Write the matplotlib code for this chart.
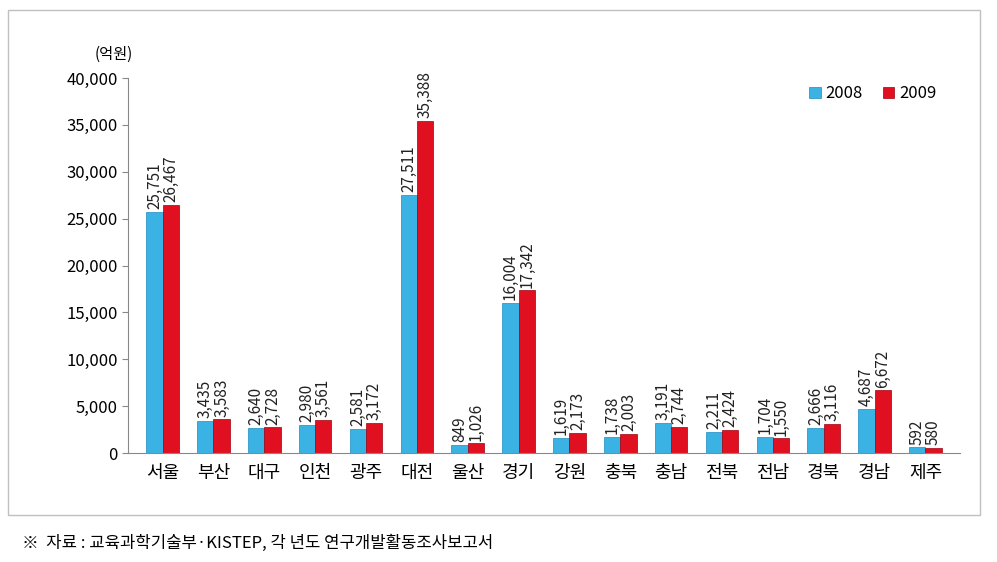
import matplotlib
matplotlib.use("Agg")
import matplotlib.pyplot as plt
import numpy as np
from matplotlib.patches import Rectangle
from matplotlib import font_manager as fm

cands = ['Noto Sans CJK KR','Noto Sans CJK JP','Noto Sans CJK SC','Noto Sans CJK TC']
avail = {f.name for f in fm.fontManager.ttflist}
fams = [c for c in cands if c in avail]
if not fams:
    for f in fm.findSystemFonts():
        if 'CJK' in f:
            fm.fontManager.addfont(f)
    avail = {f.name for f in fm.fontManager.ttflist}
    fams = [c for c in cands if c in avail] or [n for n in avail if 'CJK' in n]
plt.rcParams['font.family'] = fams + ['DejaVu Sans']

regions = ["서울","부산","대구","인천","광주","대전","울산","경기","강원","충북","충남","전북","전남","경북","경남","제주"]
v2008 = [25751,3435,2640,2980,2581,27511,849,16004,1619,1738,3191,2211,1704,2666,4687,592]
v2009 = [26467,3583,2728,3561,3172,35388,1026,17342,2173,2003,2744,2424,1550,3116,6672,580]
yticks = [0,5000,10000,15000,20000,25000,30000,35000,40000]

fig = plt.figure(figsize=(9.97,5.62), dpi=100)
fig.patches.append(Rectangle((8/997, 1-515/562), 972/997, 505/562, transform=fig.transFigure,
                             fill=False, edgecolor='#c0c0c0', lw=1))
ax = fig.add_axes([128/997, 1-453/562, 832/997, 375/562])
x = np.arange(len(regions))
w = 0.32
ax.bar(x-w/2, v2008, w, color='#3bb2e4', edgecolor='#1e8cc0', lw=0.5, label='2008')
ax.bar(x+w/2, v2009, w, color='#e01020', edgecolor='#a00010', lw=0.5, label='2009')
for xs, vs in ((x-w/2, v2008), (x+w/2, v2009)):
    for xi, v in zip(xs, vs):
        ax.text(xi, v+300, f"{v:,}", rotation=90, ha='center', va='bottom', fontsize=11, color='#222')
ax.set_xlim(-0.68, len(regions)-0.32)
ax.set_ylim(0, 40000)
ax.set_yticks(yticks)
ax.set_yticklabels([f"{t:,}" for t in yticks], fontsize=12)
ax.set_xticks(x)
ax.set_xticklabels(regions, fontsize=13)
ax.tick_params(axis='x', length=0, pad=8)
ax.tick_params(axis='y', direction='out', length=4, color='#888')
for s in ['top','right']:
    ax.spines[s].set_visible(False)
for s in ['left','bottom']:
    ax.spines[s].set_color('#888')
ax.text(-0.04, 1.05, "(억원)", transform=ax.transAxes, fontsize=11, ha='left')
ax.legend(loc='upper right', bbox_to_anchor=(0.99, 1.02), frameon=False, fontsize=12,
          handlelength=0.7, handleheight=0.7, handletextpad=0.3, ncol=2, columnspacing=1.2)
fig.text(22/997, 1-543/562, "※  자료 : 교육과학기술부·KISTEP, 각 년도 연구개발활동조사보고서", fontsize=12, va='center')
fig.savefig("out.png", dpi=100)
